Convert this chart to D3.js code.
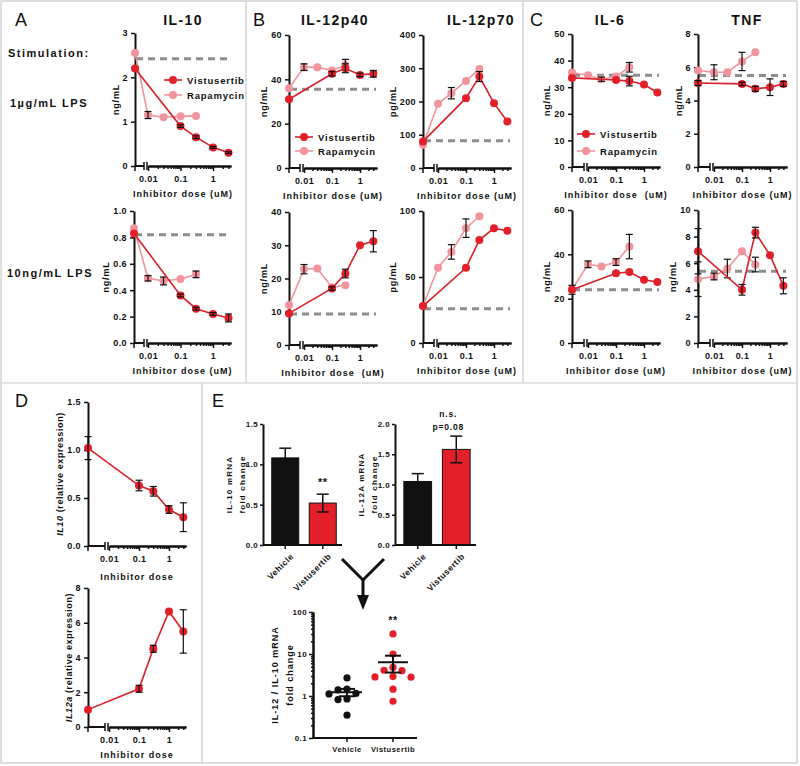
<!DOCTYPE html>
<html><head><meta charset="utf-8">
<script src="https://cdn.jsdelivr.net/npm/d3@7"></script>
<style>
body{margin:0;background:#fff}
svg{display:block}
text{font-family:"Liberation Sans",Arial,sans-serif;font-weight:bold;fill:#111}
</style></head><body>
<svg id="fig" width="800" height="766"></svg>
<script>
// ---------------- DATA ----------------
const doses = [0, 0.01, 0.03, 0.1, 0.3, 1, 3];
const seriesNames = ["Vistusertib", "Rapamycin"];

// A: IL-10
const il10HiVist = [2.2, null, null, 0.9, 0.65, 0.42, 0.3];
const il10HiVistErr = [0, 0, 0, 0.03, 0.03, 0.02, 0.02];
const il10HiRapa = [2.55, 1.15, 1.1, 1.12, 1.13, null, null];
const il10HiRapaErr = [0, 0.08, 0, 0, 0, 0, 0];
const il10HiBase = 2.42;
const il10LoVist = [0.83, null, null, 0.36, 0.26, 0.22, 0.19];
const il10LoVistErr = [0, 0, 0, 0.01, 0.01, 0.01, 0.03];
const il10LoRapa = [0.87, 0.49, 0.47, 0.485, 0.52, null, null];
const il10LoRapaErr = [0, 0.02, 0.03, 0, 0.025, 0, 0];
const il10LoBase = 0.82;

// B: IL-12p40 / IL-12p70
const p40HiVist = [31, null, null, 42.5, 45, 42, 42.5];
const p40HiVistErr = [0, 0, 0, 1, 2, 0.8, 1.5];
const p40HiRapa = [36, 45.5, 45.5, 44, 46.5, null, null];
const p40HiRapaErr = [0, 1.5, 0, 0, 2.5, 0, 0];
const p40HiBase = 35.5;
const p70HiVist = [80, null, null, 210, 275, 195, 140];
const p70HiVistErr = [0, 0, 0, 0, 15, 0, 0];
const p70HiRapa = [70, 193, 225, 262, 298, null, null];
const p70HiRapaErr = [0, 0, 17, 0, 0, 0, 0];
const p70HiBase = 82;
const p40LoVist = [9.5, null, null, 17, 21.5, 30, 31.2];
const p40LoVistErr = [0, 0, 0, 0.5, 1.3, 0, 3.2];
const p40LoRapa = [12, 22.8, 23, 17.3, 18, null, null];
const p40LoRapaErr = [0, 1.4, 0, 0, 0, 0, 0];
const p40LoBase = 9.3;
const p70LoVist = [28, null, null, 57, 78, 87, 85];
const p70LoVistErr = [0, 0, 0, 0, 0, 0, 0];
const p70LoRapa = [28, 57, 69, 87, 96, null, null];
const p70LoRapaErr = [0, 0, 5.5, 7, 0, 0, 0];
const p70LoBase = 26;

// C: IL-6 / TNF
const il6HiVist = [33.5, null, null, 32.7, 32.3, 31, 28];
const il6HiVistErr = [0, 0, 0, 0, 1.8, 0, 0];
const il6HiRapa = [35.5, 34.5, 33, 34, 37.5, null, null];
const il6HiRapaErr = [0, 0, 0.8, 0, 1.8, 0, 0];
const il6HiBase = 34.5;
const tnfHiVist = [5.05, null, null, 5.0, 4.7, 4.8, 5.0];
const tnfHiVistErr = [0.15, 0, 0, 0.1, 0.15, 0.5, 0.15];
const tnfHiRapa = [5.8, 5.7, 5.7, 6.35, 6.9, null, null];
const tnfHiRapaErr = [0, 0.45, 0, 0.55, 0, 0, 0];
const tnfHiBase = 5.5;
const il6LoVist = [24, null, null, 31.5, 32, 28.5, 27.5];
const il6LoVistErr = [0, 0, 0, 0, 0, 0, 0];
const il6LoRapa = [24, 35.5, 34.5, 36.5, 43.5, null, null];
const il6LoRapaErr = [2, 1.5, 0, 1.5, 5.5, 0, 0];
const il6LoBase = 24;
const tnfLoVist = [6.9, null, null, 4.0, 8.3, 6.6, 4.3];
const tnfLoVistErr = [1.7, 0, 0, 0.4, 0.4, 0, 0.6];
const tnfLoRapa = [4.8, 5.0, 5.6, 6.9, 5.9, null, null];
const tnfLoRapaErr = [1.3, 0.25, 0.7, 0, 0.55, 0, 0];
const tnfLoBase = 5.4;

// D: qPCR
const qpcrDoses = [0, 0.1, 0.3, 1, 3];
const il10Rel = [1.02, 0.63, 0.57, 0.38, 0.3];
const il10RelErr = [0.12, 0.055, 0.05, 0.04, 0.15];
const il12aRel = [1.0, 2.2, 4.5, 6.65, 5.5];
const il12aRelErr = [0, 0.2, 0.2, 0, 1.25];

// E
const groups = ["Vehicle", "Vistusertib"];
const il10Fold = [1.08, 0.52];
const il10FoldErr = [0.12, 0.11];
const il12aFold = [1.05, 1.58];
const il12aFoldErr = [0.13, 0.22];
const ratioVehicle = [2.7, 1.45, 1.4, 1.15, 1.12, 0.85, 0.82, 0.35];
const ratioVist = [30, 10, 4.8, 4.1, 4.0, 2.9, 2.85, 2.8, 1.45, 0.75];

const yTicksA1 = [0, 1, 2, 3], yTicksA2 = [0, 0.2, 0.4, 0.6, 0.8, 1.0];
const yTicksB1 = [0, 20, 40, 60], yTicksB2 = [0, 100, 200, 300, 400];
const yTicksB3 = [0, 10, 20, 30, 40], yTicksB4 = [0, 50, 100];
const yTicksC1 = [0, 10, 20, 30, 40, 50], yTicksC2 = [0, 2, 4, 6, 8];
const yTicksC3 = [0, 20, 40, 60], yTicksC4 = [0, 2, 4, 6, 8, 10];
const xMajorTicks = [0.01, 0.1, 1];
const xMinorTicks = [0.02,0.03,0.04,0.05,0.06,0.07,0.08,0.09,0.2,0.3,0.4,0.5,0.6,0.7,0.8,0.9,2,3];

// ---------------- DRAWING ----------------
const svg = d3.select("#fig");
const RED = "#e3202a", RED_LINE = "#d91f28", PINK = "#f2949c", BLACK = "#111";

const border = svg.append("g").attr("stroke", "#c9c9c9").attr("stroke-width", 1.2).attr("fill", "none");
border.append("rect").attr("x", 1).attr("y", 1).attr("width", 796).attr("height", 762);
[[1,383,797,383],[246,1,246,383],[523,1,523,383],[202,383,202,763]].forEach(l =>
  border.append("line").attr("x1", l[0]).attr("y1", l[1]).attr("x2", l[2]).attr("y2", l[3]));

function txt(g, x, y, s, size, o = {}) {
  const t = g.append("text").attr("x", x).attr("y", y).text(s)
    .style("font-size", size + "px")
    .style("letter-spacing", (o.ls != null ? o.ls : 0.5) + "px")
    .attr("text-anchor", o.anchor || "start");
  if (o.weight) t.style("font-weight", o.weight);
  if (o.pre) t.style("white-space", "pre");
  return t;
}

// Panel letters & side labels
[["A",15,26],["B",253,26],["C",530,26],["D",15,407],["E",212,407]].forEach(p =>
  txt(svg, p[1], p[2], p[0], 18, {weight: "normal", ls: 0}));
txt(svg, 8, 57, "Stimulation:", 11, {ls: 1.5});
txt(svg, 10, 107, "1µg/mL LPS", 11, {ls: 1.5});
txt(svg, 7, 277, "10ng/mL LPS", 11, {ls: 1.5});
[["IL-10",183],["IL-12p40",335],["IL-12p70",481],["IL-6",610],["TNF",747]].forEach(t =>
  txt(svg, t[1], 25, t[0], 14, {anchor: "middle", ls: 1.4}));

function styleAxis(a, size) {
  a.attr("font-family", null).attr("font-size", null);
  a.selectAll(".domain").attr("stroke", BLACK).attr("stroke-width", 2);
  a.selectAll(".tick line").attr("stroke", BLACK).attr("stroke-width", 1.5);
  a.selectAll("text").style("font-size", size + "px").style("letter-spacing", "0.4px").attr("fill", BLACK);
}

function yLabel(g, x0, yc, maxw, lines, size, ls) {
  lines.forEach((ln, i) => {
    const xb = x0 - 6 - maxw - 5 - (lines.length - 1 - i) * (size + 4);
    const t = g.append("text").attr("transform", `translate(${xb},${yc}) rotate(-90)`)
      .attr("text-anchor", "middle").style("font-size", size + "px").style("letter-spacing", ls + "px");
    if (typeof ln === "string") t.text(ln);
    else ln.forEach(p => t.append("tspan").text(p.t).style("font-style", p.italic ? "italic" : "normal"));
  });
}

function drawLegend(c, list) {
  const g = svg.append("g");
  list.forEach((s, i) => {
    const ly = c.legend.y + i * c.legend.dy;
    g.append("line").attr("x1", c.legend.x).attr("x2", c.legend.x + 18).attr("y1", ly).attr("y2", ly)
      .attr("stroke", s.line).attr("stroke-width", 1.6);
    g.append("circle").attr("cx", c.legend.x + 9).attr("cy", ly).attr("r", 4).attr("fill", s.color);
    txt(g, c.legend.x + 23, ly + 3.5, s.name, 9.5, {ls: 0.8});
  });
}

function doseChart(c) {
  const g = svg.append("g");
  const y = d3.scaleLinear().domain(c.yDomain).range([c.yBot, c.yTop]);
  const xMax = 0.01 * Math.pow(10, (c.xEnd - c.x001) / c.dec);
  const xs = d3.scaleLog().domain([0.01, xMax]).range([c.x001, c.xEnd]);
  const xPos = d => d === 0 ? c.x0 : xs(d);

  if (c.base != null) {
    g.append("line").attr("x1", c.x0 + 1).attr("x2", c.xEnd - 1)
      .attr("y1", y(c.base)).attr("y2", y(c.base))
      .attr("stroke", "#8d8d8d").attr("stroke-width", 3).attr("stroke-dasharray", "7,5");
  }
  // x axis (segmented)
  const ax = g.append("g").attr("transform", `translate(0,${c.yBot})`);
  ax.append("line").attr("x1", c.x0).attr("x2", c.x001 - 4).attr("stroke", BLACK).attr("stroke-width", 2);
  ax.append("line").attr("x1", c.x0).attr("x2", c.x0).attr("y1", 0).attr("y2", 5).attr("stroke", BLACK).attr("stroke-width", 1.5);
  [c.x001 - 4, c.x001 - 1].forEach(bx => ax.append("line").attr("x1", bx).attr("x2", bx)
    .attr("y1", -4).attr("y2", 4).attr("stroke", BLACK).attr("stroke-width", 1.5));
  const mi = ax.append("g").call(d3.axisBottom(xs).tickValues(xMinorTicks.filter(v => v < xMax))
    .tickSize(3).tickSizeOuter(0).tickFormat(""));
  styleAxis(mi, 9);
  const ma = ax.append("g").call(d3.axisBottom(xs).tickValues(xMajorTicks).tickSize(5).tickSizeOuter(0)
    .tickPadding(5).tickFormat(d => String(d)));
  styleAxis(ma, 9);
  // y axis
  const ya = g.append("g").attr("transform", `translate(${c.x0},0)`)
    .call(d3.axisLeft(y).tickValues(c.yTicks).tickSize(4).tickSizeOuter(0).tickPadding(3)
      .tickFormat(c.yFmt ? d3.format(c.yFmt) : d3.format("d")));
  styleAxis(ya, 9);
  let maxw = 0;
  ya.selectAll("text").each(function () { maxw = Math.max(maxw, this.getBBox().width); });
  yLabel(g, c.x0, (c.yTop + c.yBot) / 2, maxw, [c.yLabel], 9, c.yls != null ? c.yls : 0.8);
  txt(g, (c.x0 + c.xEnd) / 2, c.yBot + (c.titleDy || 31), c.xTitle, 9, {anchor: "middle", ls: 1, pre: true});

  // series
  c.series.forEach(s => {
    const pts = c.doses.map((d, i) => ({d, v: s.values[i], e: s.err ? s.err[i] : 0})).filter(p => p.v != null);
    g.append("path").datum(pts).attr("fill", "none").attr("stroke", s.line).attr("stroke-width", 1.6)
      .attr("d", d3.line().x(p => xPos(p.d)).y(p => y(p.v)));
    g.selectAll(null).data(pts).enter().append("circle")
      .attr("cx", p => xPos(p.d)).attr("cy", p => y(p.v)).attr("r", 4).attr("fill", s.color);
    const eb = g.selectAll(null).data(pts.filter(p => p.e > 0)).enter().append("g")
      .attr("stroke", BLACK).attr("stroke-width", 1.2);
    eb.append("line").attr("x1", p => xPos(p.d)).attr("x2", p => xPos(p.d))
      .attr("y1", p => y(p.v - p.e)).attr("y2", p => y(p.v + p.e));
    eb.append("line").attr("x1", p => xPos(p.d) - 3.5).attr("x2", p => xPos(p.d) + 3.5)
      .attr("y1", p => y(p.v - p.e)).attr("y2", p => y(p.v - p.e));
    eb.append("line").attr("x1", p => xPos(p.d) - 3.5).attr("x2", p => xPos(p.d) + 3.5)
      .attr("y1", p => y(p.v + p.e)).attr("y2", p => y(p.v + p.e));
  });
}

function pair(v, ve, r, re) {
  return [
    {name: seriesNames[0], values: v, err: ve, color: RED, line: RED_LINE},
    {name: seriesNames[1], values: r, err: re, color: PINK, line: PINK}
  ];
}
function chartWithOrder(c) {
  // Rapamycin drawn beneath, legend lists Vistusertib first
  doseChart(Object.assign({}, c, {series: [c.series[1], c.series[0]]}));
  if (c.legend) drawLegend(c, c.series);
}

const TITLE = "Inhibitor dose (uM)", TITLE2 = "Inhibitor dose  (uM)";
chartWithOrder({x0:135, x001:148, dec:32.5, xEnd:231, yTop:33, yBot:166, yDomain:[0,3], yTicks:yTicksA1,
  yLabel:"ng/mL", xTitle:TITLE, doses, base:il10HiBase, series:pair(il10HiVist, il10HiVistErr, il10HiRapa, il10HiRapaErr),
  legend:{x:164, y:80, dy:15}});
chartWithOrder({x0:134, x001:148, dec:32.5, xEnd:231, yTop:211, yBot:343, yDomain:[0,1], yTicks:yTicksA2, yFmt:".1f",
  yLabel:"ng/mL", xTitle:TITLE, doses, base:il10LoBase, series:pair(il10LoVist, il10LoVistErr, il10LoRapa, il10LoRapaErr)});
chartWithOrder({x0:289, x001:304, dec:28, xEnd:377, yTop:35, yBot:168, yDomain:[0,60], yTicks:yTicksB1,
  yLabel:"ng/mL", xTitle:TITLE, doses, base:p40HiBase, series:pair(p40HiVist, p40HiVistErr, p40HiRapa, p40HiRapaErr),
  legend:{x:295, y:137, dy:14}});
chartWithOrder({x0:423, x001:438, dec:28, xEnd:511, yTop:35, yBot:168, yDomain:[0,400], yTicks:yTicksB2,
  yLabel:"pg/mL", xTitle:TITLE, doses, base:p70HiBase, series:pair(p70HiVist, p70HiVistErr, p70HiRapa, p70HiRapaErr)});
chartWithOrder({x0:289, x001:304, dec:28, xEnd:377, yTop:212, yBot:345, yDomain:[0,40], yTicks:yTicksB3,
  yLabel:"ng/mL", xTitle:TITLE2, doses, base:p40LoBase, series:pair(p40LoVist, p40LoVistErr, p40LoRapa, p40LoRapaErr)});
chartWithOrder({x0:423, x001:438, dec:28, xEnd:511, yTop:211, yBot:343, yDomain:[0,100], yTicks:yTicksB4,
  yLabel:"pg/mL", xTitle:TITLE, doses, base:p70LoBase, series:pair(p70LoVist, p70LoVistErr, p70LoRapa, p70LoRapaErr)});
chartWithOrder({x0:572, x001:588, dec:28, xEnd:660, yTop:34, yBot:167, yDomain:[0,50], yTicks:yTicksC1,
  yLabel:"ng/mL", xTitle:TITLE2, doses, base:il6HiBase, series:pair(il6HiVist, il6HiVistErr, il6HiRapa, il6HiRapaErr),
  legend:{x:577, y:134, dy:17}});
chartWithOrder({x0:698, x001:714, dec:28, xEnd:787, yTop:34, yBot:167, yDomain:[0,8], yTicks:yTicksC2,
  yLabel:"ng/mL", xTitle:TITLE, doses, base:tnfHiBase, series:pair(tnfHiVist, tnfHiVistErr, tnfHiRapa, tnfHiRapaErr)});
chartWithOrder({x0:572, x001:588, dec:28, xEnd:660, yTop:210, yBot:343, yDomain:[0,60], yTicks:yTicksC3,
  yLabel:"ng/mL", xTitle:TITLE, doses, base:il6LoBase, series:pair(il6LoVist, il6LoVistErr, il6LoRapa, il6LoRapaErr)});
chartWithOrder({x0:698, x001:714, dec:28, xEnd:787, yTop:210, yBot:343, yDomain:[0,10], yTicks:yTicksC4,
  yLabel:"ng/mL", xTitle:TITLE, doses, base:tnfLoBase, series:pair(tnfLoVist, tnfLoVistErr, tnfLoRapa, tnfLoRapaErr)});

// D
doseChart({x0:88, x001:109, dec:30, xEnd:186, yTop:402, yBot:546, yDomain:[0,1.5], yTicks:[0,0.5,1.0,1.5], yFmt:".1f",
  yLabel:[{t:"IL10", italic:true},{t:" (relative expression)"}], yls:0.6, xTitle:"Inhibitor dose", titleDy:34,
  doses:qpcrDoses, series:[{name:"Vistusertib", values:il10Rel, err:il10RelErr, color:RED, line:RED_LINE}]});
doseChart({x0:88, x001:109, dec:30, xEnd:186, yTop:588, yBot:727, yDomain:[0,8], yTicks:[0,2,4,6,8],
  yLabel:[{t:"IL12a", italic:true},{t:" (relative expression)"}], yls:0.6, xTitle:"Inhibitor dose", titleDy:31,
  doses:qpcrDoses, series:[{name:"Vistusertib", values:il12aRel, err:il12aRelErr, color:RED, line:RED_LINE}]});

// E bar charts
function barChart(c) {
  const g = svg.append("g");
  const y = d3.scaleLinear().domain(c.yDomain).range([c.yBot, c.yTop]);
  const x = d3.scaleBand().domain(groups).range(c.xRange).paddingInner(0.28).paddingOuter(0.1);
  const ya = g.append("g").attr("transform", `translate(${c.x0},0)`)
    .call(d3.axisLeft(y).tickValues(c.yTicks).tickSize(3).tickSizeOuter(0).tickPadding(2).tickFormat(d3.format(".1f")));
  styleAxis(ya, 8);
  groups.forEach((k, i) => {
    const cx = x(k) + x.bandwidth() / 2;
    const v = c.values[i], e = c.err[i];
    g.append("rect").attr("x", x(k)).attr("width", x.bandwidth()).attr("y", y(v))
      .attr("height", c.yBot - y(v)).attr("fill", i === 0 ? BLACK : RED)
      .attr("stroke", BLACK).attr("stroke-width", 1);
    const eg = g.append("g").attr("stroke", BLACK).attr("stroke-width", 1.5);
    eg.append("line").attr("x1", cx).attr("x2", cx).attr("y1", y(v - e)).attr("y2", y(v + e));
    [v - e, v + e].forEach(w => eg.append("line").attr("x1", cx - 6).attr("x2", cx + 6).attr("y1", y(w)).attr("y2", y(w)));
    g.append("line").attr("x1", cx).attr("x2", cx).attr("y1", c.yBot).attr("y2", c.yBot + 4)
      .attr("stroke", BLACK).attr("stroke-width", 1.5);
    g.append("text").attr("transform", `translate(${cx + 9},${c.yBot + 12}) rotate(-45)`)
      .attr("text-anchor", "end").style("font-size", "8.5px").style("letter-spacing", "0.5px").text(k);
  });
  g.append("line").attr("x1", c.x0).attr("x2", c.xEnd).attr("y1", c.yBot).attr("y2", c.yBot)
    .attr("stroke", BLACK).attr("stroke-width", 2);
  c.yLabel.forEach((ln, i) => {
    g.append("text").attr("transform", `translate(${c.x0 + c.labelX[i]},${(c.yTop + c.yBot) / 2}) rotate(-90)`)
      .attr("text-anchor", "middle").style("font-size", "8px").style("letter-spacing", "1.2px").text(ln);
  });
  return {g, x, y};
}
const e1 = barChart({x0:263, xEnd:342, xRange:[268,340], yTop:424, yBot:545, yDomain:[0,1.5], yTicks:[0,0.5,1.0,1.5],
  values:il10Fold, err:il10FoldErr, yLabel:["IL-10 mRNA","fold change"], labelX:[-31,-18]});
txt(svg, e1.x("Vistusertib") + e1.x.bandwidth() / 2, 486, "**", 11, {anchor:"middle", ls:0.5});
const e2 = barChart({x0:395, xEnd:476, xRange:[400,474], yTop:424, yBot:545, yDomain:[0,2], yTicks:[0,0.5,1.0,1.5,2.0],
  values:il12aFold, err:il12aFoldErr, yLabel:["IL-12A mRNA","fold change"], labelX:[-31,-18]});
txt(svg, e2.x("Vistusertib") + e2.x.bandwidth() / 2 - 8, 417, "n.s.", 8.5, {anchor:"middle", ls:0.8});
txt(svg, e2.x("Vistusertib") + e2.x.bandwidth() / 2 - 8, 430, "p=0.08", 8.5, {anchor:"middle", ls:0.8});

// Y-shaped arrow
const arr = svg.append("g").attr("stroke", BLACK).attr("stroke-width", 3).attr("fill", "none");
arr.append("polyline").attr("points", "342,559 363,580 384,559");
arr.append("line").attr("x1", 363).attr("x2", 363).attr("y1", 580).attr("y2", 597);
svg.append("path").attr("d", "M357,595 L369,595 L363,610 Z").attr("fill", BLACK);

// E3 scatter (log)
(function () {
  const g = svg.append("g");
  const x0 = 313, yTop = 612, yBot = 738, xEnd = 417;
  const y = d3.scaleLog().domain([0.1, 100]).range([yBot, yTop]);
  const x = d3.scalePoint().domain(groups).range([347, 393]);
  const minor = [];
  [0.1, 1, 10].forEach(b => { for (let k = 2; k <= 9; k++) minor.push(b * k); });
  const ym = g.append("g").attr("transform", `translate(${x0},0)`)
    .call(d3.axisLeft(y).tickValues(minor).tickSize(2).tickSizeOuter(0).tickFormat(""));
  styleAxis(ym, 8);
  const ya = g.append("g").attr("transform", `translate(${x0},0)`)
    .call(d3.axisLeft(y).tickValues([0.1, 1, 10, 100]).tickSize(4).tickSizeOuter(0).tickPadding(2)
      .tickFormat(d => d < 1 ? "0.1" : d3.format("d")(d)));
  styleAxis(ya, 8);
  g.append("line").attr("x1", x0).attr("x2", xEnd).attr("y1", yBot).attr("y2", yBot).attr("stroke", BLACK).attr("stroke-width", 2);
  groups.forEach(k => {
    g.append("line").attr("x1", x(k)).attr("x2", x(k)).attr("y1", yBot).attr("y2", yBot + 4).attr("stroke", BLACK).attr("stroke-width", 1.5);
    txt(g, x(k), 752, k, 7.5, {anchor: "middle", ls: 0.5});
  });
  [["IL-12 / IL-10 mRNA", -35], ["fold change", -20]].forEach(l =>
    g.append("text").attr("transform", `translate(${x0 + l[1]},${(yTop + yBot) / 2}) rotate(-90)`)
      .attr("text-anchor", "middle").style("font-size", "9px").style("letter-spacing", "1px").text(l[0]));
  const r = 3.6;
  [[ratioVehicle, BLACK, "Vehicle"], [ratioVist, RED, "Vistusertib"]].forEach(([vals, col, k]) => {
    const placed = [];
    const sorted = vals.slice().sort((a, b) => b - a);
    sorted.forEach(v => {
      const py = y(v);
      const offs = [0, -9, 9, -18, 18, -27, 27];
      let px = x(k);
      for (const o of offs) {
        const cx = x(k) + o;
        if (placed.every(p => Math.hypot(p[0] - cx, p[1] - py) >= 2 * r + 1)) { px = cx; break; }
      }
      placed.push([px, py]);
      g.append("circle").attr("cx", px).attr("cy", py).attr("r", r).attr("fill", col);
    });
    const m = d3.mean(vals), sem = d3.deviation(vals) / Math.sqrt(vals.length);
    const cx = x(k);
    g.append("line").attr("x1", cx - 15).attr("x2", cx + 15).attr("y1", y(m)).attr("y2", y(m)).attr("stroke", BLACK).attr("stroke-width", 2);
    g.append("line").attr("x1", cx).attr("x2", cx).attr("y1", y(m - sem)).attr("y2", y(m + sem)).attr("stroke", BLACK).attr("stroke-width", 2);
    [m - sem, m + sem].forEach(v => g.append("line").attr("x1", cx - 8).attr("x2", cx + 8).attr("y1", y(v)).attr("y2", y(v))
      .attr("stroke", BLACK).attr("stroke-width", 2));
  });
  txt(g, x("Vistusertib"), 624, "**", 11, {anchor: "middle", ls: 0.5});
})();
</script>
</body></html>
